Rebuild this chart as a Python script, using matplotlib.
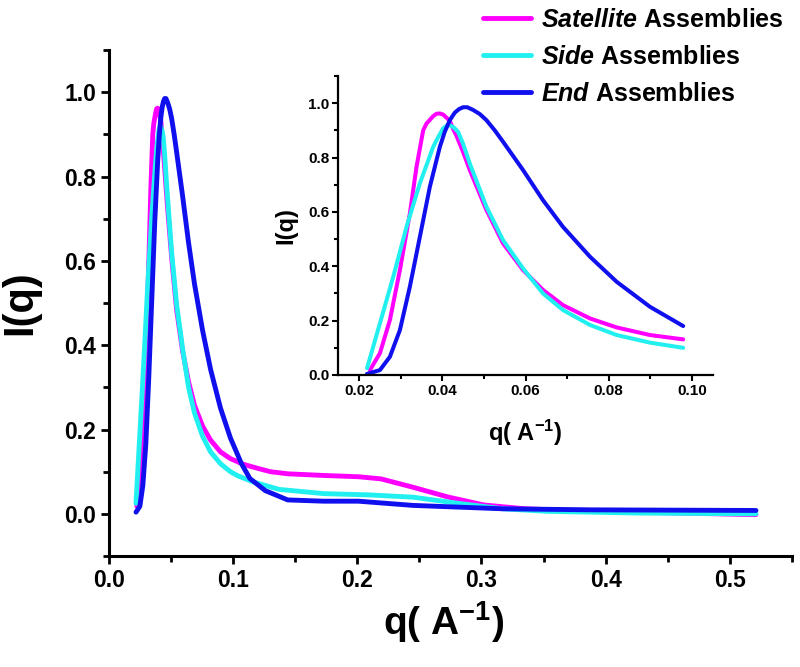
import matplotlib
matplotlib.use("Agg")
import matplotlib.pyplot as plt
from matplotlib.ticker import MultipleLocator

plt.rcParams["font.family"] = ["Liberation Sans", "DejaVu Sans"]
plt.rcParams["font.weight"] = "bold"
plt.rcParams["axes.labelweight"] = "bold"
plt.rcParams["mathtext.fontset"] = "custom"
plt.rcParams["mathtext.rm"] = "Liberation Sans:bold"
plt.rcParams["mathtext.bf"] = "Liberation Sans:bold"
plt.rcParams["mathtext.it"] = "Liberation Sans:italic:bold"
plt.rcParams["mathtext.default"] = "regular"

# values (q in 1/A, normalised intensity)
q_satellite = [0.0226, 0.025, 0.0274, 0.0298, 0.0322, 0.033, 0.0338, 0.0354,
               0.0362, 0.0378, 0.0386, 0.0394, 0.0402, 0.0418, 0.0426, 0.0434,
               0.045, 0.0466, 0.0486, 0.0506, 0.0546, 0.0594, 0.0642,
               0.069, 0.0755, 0.0819, 0.0899, 0.0979, 0.108, 0.116, 0.13,
               0.144, 0.173, 0.201, 0.219, 0.245, 0.273, 0.302, 0.335, 0.389,
               0.46, 0.521]
i_satellite = [0.018, 0.080, 0.202, 0.386, 0.594, 0.68, 0.766, 0.90,
               0.925, 0.952, 0.961, 0.962, 0.958, 0.935, 0.905, 0.88,
               0.82, 0.754, 0.68, 0.607, 0.484, 0.386, 0.313,
               0.257, 0.208, 0.175, 0.147, 0.131, 0.118, 0.111, 0.100,
               0.095, 0.091, 0.088, 0.083, 0.063, 0.040, 0.021, 0.012, 0.006,
               0.002, -0.002]

q_side = [0.0219, 0.025, 0.0282, 0.0314, 0.0346, 0.0378, 0.039, 0.0402,
          0.041, 0.0418, 0.0428, 0.0438, 0.045, 0.0466, 0.0506, 0.0546,
          0.0594, 0.0642, 0.069, 0.0755, 0.0819, 0.0899, 0.0979, 0.104,
          0.116, 0.137, 0.173, 0.209, 0.245, 0.281, 0.317, 0.353, 0.424,
          0.521]
i_side = [0.025, 0.19, 0.361, 0.545, 0.705, 0.839, 0.875, 0.907,
          0.917, 0.919, 0.91, 0.894, 0.85, 0.778, 0.619, 0.496,
          0.392, 0.30, 0.239, 0.184, 0.147, 0.119, 0.10, 0.09,
          0.076, 0.058, 0.048, 0.045, 0.0395, 0.025, 0.012, 0.006, 0.002,
          0.0]

q_end = [0.0219, 0.025, 0.0274, 0.0298, 0.0322, 0.0346, 0.037, 0.0394,
         0.0406, 0.0418, 0.043, 0.044, 0.045, 0.046, 0.0474, 0.049, 0.0506,
         0.0526, 0.0546, 0.0594, 0.0642, 0.069, 0.0755, 0.0819, 0.0899,
         0.0979, 0.1068, 0.1135, 0.126, 0.144, 0.173, 0.201, 0.245, 0.317,
         0.389, 0.521]
i_end = [0.004, 0.018, 0.067, 0.165, 0.325, 0.508, 0.692, 0.839,
         0.895, 0.9375, 0.965, 0.978, 0.985, 0.985, 0.975, 0.96, 0.9375,
         0.90, 0.858, 0.754, 0.643, 0.545, 0.435, 0.343, 0.251,
         0.18, 0.119, 0.084, 0.055, 0.033, 0.030, 0.030, 0.020, 0.012,
         0.0095, 0.008]

labels = [r"$\mathit{Satellite}$ Assemblies", r"$\mathit{Side}$ Assemblies",
          r"$\mathit{End}$ Assemblies"]
colors = ["#FF00FF", "#22F0F0", "#1010EE"]
series = [(q_satellite, i_satellite), (q_side, i_side), (q_end, i_end)]
inset_qmax = 0.098


def style_axis(ax, spine_w, major_len, minor_len, tick_w, labelsize, pad):
    for side in ["top", "right"]:
        ax.spines[side].set_visible(False)
    for side in ["left", "bottom"]:
        ax.spines[side].set_linewidth(spine_w)
    ax.tick_params(which="major", direction="out", length=major_len,
                   width=tick_w, labelsize=labelsize, pad=pad)
    ax.tick_params(which="minor", direction="out", length=minor_len,
                   width=tick_w)


fig = plt.figure(figsize=(8, 6.67), dpi=100)

# main plot
ax = fig.add_axes([0.136, 0.1664, 0.854, 0.7586])
handles = []
for (q, i), c in zip(series, colors):
    line, = ax.plot(q, i, color=c, lw=3.5, solid_capstyle="round",
                    solid_joinstyle="round")
    handles.append(line)
ax.set_xlim(0, 0.55)
ax.set_ylim(-0.1, 1.1)
ax.xaxis.set_major_locator(MultipleLocator(0.1))
ax.xaxis.set_minor_locator(MultipleLocator(0.05))
ax.yaxis.set_major_locator(MultipleLocator(0.2))
ax.yaxis.set_minor_locator(MultipleLocator(0.1))
style_axis(ax, 2.2, 6, 4, 2, 16.5, 3)
ax.set_xlabel("q( A$^{-1}$)", fontsize=28, fontweight="bold")
ax.xaxis.set_label_coords(0.49, -0.085)
ax.set_ylabel("I(q)", fontsize=30, fontweight="bold")
ax.yaxis.set_label_coords(-0.10, 0.5)

# inset
ax2 = fig.add_axes([0.4229, 0.4378, 0.468, 0.4483])
ax2.patch.set_alpha(0)
for (q, i), c in zip(series, colors):
    qs = [v for v in q if v <= inset_qmax]
    ax2.plot(qs, i[:len(qs)], color=c, lw=2.9, solid_capstyle="round",
             solid_joinstyle="round")
ax2.set_xlim(0.015, 0.105)
ax2.set_ylim(0, 1.1)
ax2.xaxis.set_major_locator(MultipleLocator(0.02))
ax2.xaxis.set_minor_locator(MultipleLocator(0.01))
ax2.yaxis.set_major_locator(MultipleLocator(0.2))
ax2.yaxis.set_minor_locator(MultipleLocator(0.1))
style_axis(ax2, 1.6, 4.5, 3, 1.5, 11, 2)
ax2.set_xlabel("q( A$^{-1}$)", fontsize=17, fontweight="bold")
ax2.xaxis.set_label_coords(0.5, -0.144)
ax2.set_ylabel("I(q)", fontsize=17, fontweight="bold")
ax2.yaxis.set_label_coords(-0.11, 0.5)

fig.legend(handles, labels, loc="upper left", bbox_to_anchor=(0.604, 0.9885),
           frameon=False, fontsize=18, handlelength=1.9,
           handletextpad=0.4, labelspacing=0.52, borderpad=0,
           borderaxespad=0)

fig.savefig("out.png", dpi=100)
plt.close(fig)
